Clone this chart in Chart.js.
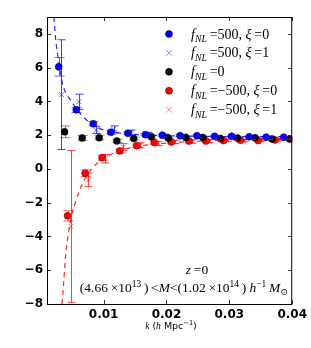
<!DOCTYPE html>
<html>
<head>
<meta charset="utf-8">
<script src="https://cdn.jsdelivr.net/npm/chart.js@4.4.1/dist/chart.umd.min.js"></script>
<style>
  html, body { margin: 0; padding: 0; background: #fff; }
</style>
</head>
<body>
<canvas id="chartBias" width="311" height="348"></canvas>
<script>
// k bins (h/Mpc)
const kBins = [0.0038, 0.0066, 0.0093, 0.0121, 0.0148, 0.0176, 0.0203, 0.0231, 0.0258, 0.0286, 0.0313, 0.0341, 0.0368, 0.0396];

// fNL = 500, xi = 0
const biasPos0 = [6.05, 3.50, 2.68, 2.17, 2.11, 2.03, 2.00, 1.97, 1.97, 1.93, 1.93, 1.90, 1.88, 1.88];
const errPos0  = [0.55, 0.15, 0.12, 0.10, 0.08, 0.07, 0.06, 0.06, 0.05, 0.05, 0.05, 0.05, 0.04, 0.04];
// fNL = 500, xi = 1
const biasPos1 = [4.40, 3.98, 2.30, 2.35, 2.15, 2.05, 1.95, 1.95, 1.92, 1.90, 1.88, 1.90, 1.87, 1.86];
const errPos1  = [3.25, 0.45, 0.20, 0.20, 0.15, 0.12, 0.10, 0.10, 0.08, 0.08, 0.07, 0.07, 0.06, 0.06];
// fNL = 0
const biasZero = [2.20, 1.83, 1.85, 1.66, 1.80, 1.90, 1.83, 1.86, 1.86, 1.80, 1.83, 1.85, 1.77, 1.77];
const errZero  = [0.35, 0.15, 0.12, 0.10, 0.08, 0.07, 0.06, 0.06, 0.05, 0.05, 0.05, 0.05, 0.04, 0.04];
// fNL = -500, xi = 0
const biasNeg0 = [-2.78, -0.25, 0.67, 1.07, 1.38, 1.56, 1.60, 1.65, 1.65, 1.68, 1.70, 1.68, 1.72, 1.75];
const errNeg0  = [0.30, 0.20, 0.15, 0.12, 0.10, 0.08, 0.07, 0.06, 0.06, 0.05, 0.05, 0.05, 0.04, 0.04];
// fNL = -500, xi = 1
const biasNeg1 = [-3.40, -0.65, 0.60, 1.30, 1.40, 1.50, 1.60, 1.62, 1.65, 1.70, 1.68, 1.72, 1.72, 1.75];
const errNeg1  = [4.50, 0.40, 0.25, 0.20, 0.15, 0.12, 0.10, 0.10, 0.08, 0.08, 0.07, 0.07, 0.06, 0.06];

// model curves (dashed)
const kModelPos = [0.0021, 0.0024, 0.0029, 0.0035, 0.0040, 0.0049, 0.0057, 0.0070, 0.0083, 0.0101, 0.0131, 0.0160, 0.0200, 0.0250, 0.0300, 0.0350, 0.0400];
const modelPos  = [9.0, 7.6, 6.3, 5.0, 4.5, 4.0, 3.55, 3.0, 2.6, 2.3, 2.1, 2.02, 1.97, 1.94, 1.92, 1.91, 1.90];
const kModelNeg = [0.0034, 0.0036, 0.0040, 0.0045, 0.0050, 0.0055, 0.0060, 0.0070, 0.0080, 0.0090, 0.0100, 0.0120, 0.0150, 0.0200, 0.0250, 0.0300, 0.0350, 0.0400];
const modelNeg  = [-8.0, -7.0, -5.0, -3.6, -2.65, -2.0, -1.45, -0.6, -0.05, 0.35, 0.62, 1.0, 1.3, 1.53, 1.64, 1.70, 1.74, 1.76];

const xTicks = [0.01, 0.02, 0.03, 0.04];
const yTicks = [-8, -6, -4, -2, 0, 2, 4, 6, 8];

// small horizontal shifts so the series don't overlap
const shift = { pos0: -0.00094, pos1: -0.0005, zero: 0, neg0: 0.00047, neg1: 0.001 };

const SERIF = '"Liberation Serif", "DejaVu Serif", serif';
const SANS = '"DejaVu Sans", sans-serif';

function pts(xs, ys, dx) {
    return xs.map((x, i) => ({ x: x + (dx || 0), y: ys[i] }));
}

// draw a little mathtext-like string: parts = [text, style]
function mathParts(ctx, parts, size) {
    return parts.map(([t, st]) => {
        let font, dy = 0;
        if (st === 'i') font = 'italic ' + size + 'px ' + SERIF;
        else if (st === 'r') font = size + 'px ' + SERIF;
        else if (st === 's') font = size + 'px ' + SANS;
        else if (st === 'sub') { font = 'italic ' + (size * 0.7) + 'px ' + SERIF; dy = size * 0.25; }
        else if (st === 'subr') { font = (size * 0.7) + 'px ' + SERIF; dy = size * 0.25; }
        else if (st === 'sup') { font = (size * 0.7) + 'px ' + SERIF; dy = -size * 0.38; }
        else if (st === 'supsans') { font = (size * 0.7) + 'px ' + SANS; dy = -size * 0.38; }
        ctx.font = font;
        return { t, font, dy, w: ctx.measureText(t).width };
    });
}
function drawMath(ctx, parts, x, y, size, align) {
    const m = mathParts(ctx, parts, size);
    const total = m.reduce((s, p) => s + p.w, 0);
    let cx = align === 'center' ? x - total / 2 : align === 'right' ? x - total : x;
    ctx.textAlign = 'left';
    ctx.textBaseline = 'alphabetic';
    m.forEach(p => {
        ctx.font = p.font;
        ctx.fillText(p.t, cx, y + p.dy);
        cx += p.w;
    });
}

const legendItems = [
    { style: 'dot',   color: '#0000ff', parts: [['f', 'i'], ['NL', 'sub'], ['\u2009=500, ', 'r'], ['ξ', 'i'], ['\u2009=0', 'r']] },
    { style: 'cross', color: 'rgba(60,60,255,0.6)', parts: [['f', 'i'], ['NL', 'sub'], ['\u2009=500, ', 'r'], ['ξ', 'i'], ['\u2009=1', 'r']] },
    { style: 'dot',   color: '#000000', parts: [['f', 'i'], ['NL', 'sub'], ['\u2009=0', 'r']] },
    { style: 'dot',   color: '#ff0000', parts: [['f', 'i'], ['NL', 'sub'], ['\u2009=\u2212500, ', 'r'], ['ξ', 'i'], ['\u2009=0', 'r']] },
    { style: 'cross', color: 'rgba(255,60,60,0.6)', parts: [['f', 'i'], ['NL', 'sub'], ['\u2009=\u2212500, ', 'r'], ['ξ', 'i'], ['\u2009=1', 'r']] }
];

// error bars, drawn below the markers
const errorBarPlugin = {
    id: 'errorBars',
    beforeDatasetsDraw(chart) {
        const ctx = chart.ctx;
        const yScale = chart.scales.y;
        const area = chart.chartArea;
        ctx.save();
        ctx.beginPath();
        ctx.rect(area.left, area.top, area.right - area.left, area.bottom - area.top);
        ctx.clip();
        chart.data.datasets.forEach((ds, i) => {
            if (!ds.errors) return;
            const meta = chart.getDatasetMeta(i);
            ctx.strokeStyle = ds.errColor;
            ctx.lineWidth = 1;
            meta.data.forEach((el, j) => {
                const v = ds.data[j].y, e = ds.errors[j];
                const x = Math.round(el.x) + 0.5;
                const y1 = yScale.getPixelForValue(v + e);
                const y2 = yScale.getPixelForValue(v - e);
                const cap = ds.capSize;
                ctx.beginPath();
                ctx.moveTo(x, y1); ctx.lineTo(x, y2);
                ctx.moveTo(x - cap, y1); ctx.lineTo(x + cap, y1);
                ctx.moveTo(x - cap, y2); ctx.lineTo(x + cap, y2);
                ctx.stroke();
            });
        });
        ctx.restore();
    }
};

// frame, inward ticks, legend and annotations
const decorPlugin = {
    id: 'decor',
    afterDraw(chart) {
        const ctx = chart.ctx;
        const a = chart.chartArea;
        const xs = chart.scales.x, ys = chart.scales.y;
        ctx.save();
        ctx.strokeStyle = '#333';
        ctx.lineWidth = 1;
        ctx.beginPath();
        xTicks.forEach(v => {
            const px = Math.round(xs.getPixelForValue(v)) + 0.5;
            ctx.moveTo(px, a.bottom); ctx.lineTo(px, a.bottom - 4);
            ctx.moveTo(px, a.top); ctx.lineTo(px, a.top + 4);
        });
        yTicks.forEach(v => {
            const py = Math.round(ys.getPixelForValue(v)) + 0.5;
            ctx.moveTo(a.left, py); ctx.lineTo(a.left + 4, py);
            ctx.moveTo(a.right, py); ctx.lineTo(a.right - 4, py);
        });
        ctx.stroke();
        ctx.strokeStyle = '#000';
        ctx.strokeRect(a.left + 0.5, a.top + 0.5, a.right - a.left - 1, a.bottom - a.top);

        // legend
        const lx = 169, ly0 = 34, dy = 18.9;
        ctx.fillStyle = '#000';
        legendItems.forEach((it, i) => {
            const y = ly0 + dy * i;
            if (it.style === 'dot') {
                ctx.fillStyle = it.color;
                ctx.strokeStyle = '#000';
                ctx.lineWidth = 0.5;
                ctx.beginPath(); ctx.arc(lx, y, 3.5, 0, Math.PI * 2); ctx.fill(); ctx.stroke();
            } else {
                ctx.strokeStyle = it.color;
                ctx.lineWidth = 1;
                ctx.beginPath();
                ctx.moveTo(lx - 3, y - 3); ctx.lineTo(lx + 3, y + 3);
                ctx.moveTo(lx - 3, y + 3); ctx.lineTo(lx + 3, y - 3);
                ctx.stroke();
            }
            ctx.fillStyle = '#000';
            drawMath(ctx, it.parts, 191, y + 4.5, 14, 'left');
        });

        // annotations
        ctx.fillStyle = '#000';
        drawMath(ctx, [['z', 'i'], ['\u2009=0', 'r']], 197, 274, 13.5, 'center');
        drawMath(ctx, [['(4.66\u2009×10', 'r'], ['13', 'sup'], ['\u2009)\u2009<', 'r'], ['M', 'i'], ['<(1.02\u2009×10', 'r'], ['14', 'sup'], ['\u2009) ', 'r'], ['h', 'i'], ['\u22121', 'sup'], ['\u2009', 'r'], ['M', 'i'], ['\u2299', 'subr']], 184, 292, 13.5, 'center');

        // x-axis title
        drawMath(ctx, [['k', 'i'], [' (', 's'], ['h', 'i'], [' Mpc', 's'], ['\u22121', 'supsans'], [')', 's']], 171, 329, 9.5, 'center');
        ctx.restore();
    }
};

const ctx = document.getElementById('chartBias').getContext('2d');
new Chart(ctx, {
    type: 'scatter',
    data: {
        datasets: [
            {
                type: 'line', data: pts(kModelPos, modelPos), borderColor: 'rgba(0,0,255,0.85)', borderWidth: 1.2,
                borderDash: [5, 4], pointRadius: 0, cubicInterpolationMode: 'monotone', fill: false
            },
            {
                type: 'line', data: pts(kModelNeg, modelNeg), borderColor: 'rgba(255,0,0,0.85)', borderWidth: 1.2,
                borderDash: [5, 4], pointRadius: 0, cubicInterpolationMode: 'monotone', fill: false
            },
            {
                data: pts(kBins, biasPos1, shift.pos1), errors: errPos1, errColor: 'rgba(30,30,255,0.85)', capSize: 4,
                pointStyle: 'crossRot', pointRadius: 3.5, borderColor: 'rgba(40,40,255,0.7)', borderWidth: 1
            },
            {
                data: pts(kBins, biasNeg1, shift.neg1), errors: errNeg1, errColor: 'rgba(255,30,30,0.85)', capSize: 4,
                pointStyle: 'crossRot', pointRadius: 3.5, borderColor: 'rgba(255,40,40,0.7)', borderWidth: 1
            },
            {
                data: pts(kBins, biasPos0, shift.pos0), errors: errPos0, errColor: 'rgba(0,0,255,0.6)', capSize: 5,
                pointStyle: 'circle', pointRadius: 3.5, backgroundColor: '#0000ff', borderColor: '#000', borderWidth: 0.5
            },
            {
                data: pts(kBins, biasZero, shift.zero), errors: errZero, errColor: 'rgba(0,0,0,0.45)', capSize: 5,
                pointStyle: 'circle', pointRadius: 3.5, backgroundColor: '#000000', borderColor: '#000', borderWidth: 0.5
            },
            {
                data: pts(kBins, biasNeg0, shift.neg0), errors: errNeg0, errColor: 'rgba(255,0,0,0.6)', capSize: 5,
                pointStyle: 'circle', pointRadius: 3.5, backgroundColor: '#ff0000', borderColor: '#550000', borderWidth: 0.5
            }
        ]
    },
    options: {
        responsive: false,
        animation: false,
        devicePixelRatio: 1,
        layout: { padding: { top: 17, right: 16, left: 0, bottom: 0 } },
        plugins: { legend: { display: false }, tooltip: { enabled: false } },
        scales: {
            x: {
                type: 'linear', min: 0.001, max: 0.04,
                grid: { display: false, drawTicks: false },
                border: { display: false },
                afterFit: s => { s.height = 44; },
                afterBuildTicks: s => { s.ticks = xTicks.map(v => ({ value: v })); },
                ticks: {
                    padding: 4, color: '#000', maxRotation: 0,
                    font: { family: SANS, size: 12, weight: 'bold' },
                    callback: v => v.toFixed(2)
                }
            },
            y: {
                type: 'linear', min: -8, max: 9,
                grid: { display: false, drawTicks: false },
                border: { display: false },
                afterFit: s => { s.width = 47; },
                afterBuildTicks: s => { s.ticks = yTicks.map(v => ({ value: v })); },
                ticks: {
                    padding: 4, color: '#000',
                    font: { family: SANS, size: 12, weight: 'bold' },
                    callback: v => String(v).replace('-', '\u2212')
                }
            }
        }
    },
    plugins: [errorBarPlugin, decorPlugin]
});
</script>
</body>
</html>
